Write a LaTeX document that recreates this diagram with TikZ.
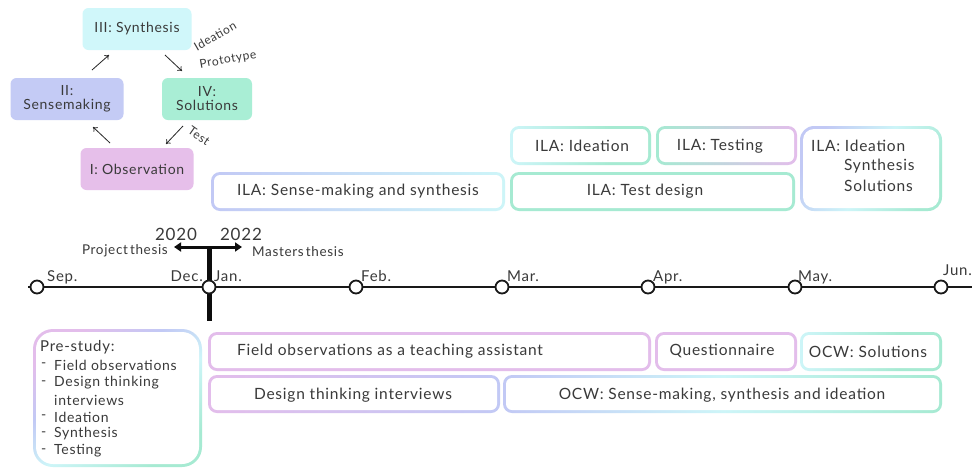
\documentclass[tikz,border=0pt]{standalone}
\usepackage{fontspec}
\setmainfont{Lato}[LetterSpace=5]
\usetikzlibrary{arrows.meta}
\definecolor{cP}{HTML}{E3BDEB}
\definecolor{cB}{HTML}{C2C9F5}
\definecolor{cC}{HTML}{CDF5F8}
\definecolor{cG}{HTML}{A6EAD2}
\definecolor{fObs}{HTML}{E6BFEA}
\definecolor{fSen}{HTML}{C4CBF5}
\definecolor{fSyn}{HTML}{D0F7FA}
\definecolor{fSol}{HTML}{A9EED5}
\definecolor{ink}{HTML}{3A3A3A}
\pgfdeclarehorizontalshading{bc}{100bp}{color(0bp)=(cB); color(25bp)=(cB); color(75bp)=(cC); color(100bp)=(cC)}
\pgfdeclarehorizontalshading{cg}{100bp}{color(0bp)=(cC); color(25bp)=(cC); color(60bp)=(cG); color(100bp)=(cG)}
\pgfdeclarehorizontalshading{gp}{100bp}{color(0bp)=(cG); color(25bp)=(cG); color(75bp)=(cP); color(100bp)=(cP)}
\pgfdeclarehorizontalshading{pb}{100bp}{color(0bp)=(cP); color(25bp)=(cP); color(75bp)=(cB); color(100bp)=(cB)}
\pgfdeclarehorizontalshading{bcg}{100bp}{color(0bp)=(cB); color(25bp)=(cB); color(50bp)=(cC); color(75bp)=(cG); color(100bp)=(cG)}
\pgfdeclarehorizontalshading{pbcg}{100bp}{color(0bp)=(cP); color(25bp)=(cP); color(40bp)=(cB); color(55bp)=(cC); color(75bp)=(cG); color(100bp)=(cG)}
\pgfdeclarehorizontalshading{pp}{100bp}{color(0bp)=(cP); color(100bp)=(cP)}
\pgfdeclarehorizontalshading{gg}{100bp}{color(0bp)=(cG); color(100bp)=(cG)}
% x1 y1 x2 y2 shading angle outer-radius inner-radius
\newcommand\gbox[8]{%
  \shade[shading=#5, shading angle=#6, rounded corners=#7pt] (#1,#2) rectangle (#3,#4);
  \fill[white, rounded corners=#8pt] ({#1+3},{#2+3}) rectangle ({#3-3},{#4-3});
}
\begin{document}
\begin{tikzpicture}[x=1pt,y=-1pt,
  txt/.style={text=ink, font=\fontsize{15.5}{18}\selectfont, inner sep=0pt},
  small/.style={text=ink, font=\fontsize{14}{16}\selectfont, inner sep=0pt},
  tiny/.style={text=ink, font=\fontsize{12}{13}\selectfont, inner sep=0pt},
  cyc/.style={text=ink, font=\fontsize{14}{16}\selectfont, rounded corners=6pt, align=center, inner sep=0pt, minimum height=42pt},
  cycarrow/.style={draw=black!85, line width=0.8pt, -{To[length=4pt,width=6pt]}},
  month/.style={circle, draw=black!90, line width=1.8pt, fill=white, minimum size=13pt, inner sep=0pt},
]
\useasboundingbox (0,0) rectangle (972,469);
\fill[white] (0,0) rectangle (972,469);

% ---------- cycle ----------
\node[cyc, fill=fSyn, minimum width=109pt] (syn) at (137,29) {III: Synthesis};
\node[cyc, fill=fSen, minimum width=113pt] (sen) at (67,99) {II:\\[-2pt]Sensemaking};
\node[cyc, fill=fSol, minimum width=90pt] (sol) at (207,99) {IV:\\[-2pt]Solutions};
\node[cyc, fill=fObs, minimum width=113pt] (obs) at (137,169) {I: Observation};

\coordinate (a1s) at (110,143); \coordinate (a1e) at (93,127);
\coordinate (a2s) at (92,70);   \coordinate (a2e) at (109,55);
\coordinate (a3s) at (165,55);  \coordinate (a3e) at (182,71);
\coordinate (a4s) at (183,126); \coordinate (a4e) at (166,144);
\draw[cycarrow] (a1s) -- (a1e);
\draw[cycarrow] (a2s) -- (a2e);
\draw[cycarrow] (a3s) -- (a3e);
\draw[cycarrow] (a4s) -- (a4e);
\node[tiny, rotate=30] (lid) at (215,36) {Ideation};
\node[tiny, rotate=10] (lpr) at (228,60) {Prototype};
\node[tiny, rotate=-35] (lte) at (199,136) {Test};

% ---------- upper boxes ----------
\gbox{211}{172}{505}{211}{bc}{0}{9}{6}
\node[txt] (ilasense) at (358,191) {ILA: Sense-making and synthesis};
\gbox{510}{126}{651}{165}{cg}{0}{9}{6}
\node[txt] (ilaidea) at (582,146) {ILA: Ideation};
\gbox{656}{126}{797}{165}{gp}{0}{9}{6}
\node[txt] (ilatest) at (720,146) {ILA: Testing};
\gbox{510}{172}{795}{211}{gg}{0}{9}{6}
\node[txt] (ilatd) at (645,191) {ILA: Test design};
\gbox{800}{126}{942}{211}{bcg}{-30}{14}{11}
\node[txt, anchor=west] (ila3a) at (811,146) {ILA: Ideation};
\node[txt, anchor=west] (ila3b) at (844,166) {Synthesis};
\node[txt, anchor=west] (ila3c) at (844,186) {Solutions};

% ---------- timeline ----------
\coordinate (tl0) at (28,287);
\coordinate (tl1) at (972,287);
\draw[line width=2.2pt, black!90] (tl0) -- (tl1);
\coordinate (vtop) at (209,247);
\coordinate (vbot) at (209,321);
\draw[line width=5pt, black!95] (vtop) -- (vbot);
\coordinate (arl) at (174,247);
\coordinate (arr) at (242,247);
\draw[line width=3pt, black!95, {Triangle[length=7pt,width=9pt]}-{Triangle[length=7pt,width=9pt]}] (arl) -- (arr);

\node[month] (m1) at (37,287) {};
\node[month] (m2) at (209,287) {};
\node[month] (m3) at (356,287) {};
\node[month] (m4) at (502,287) {};
\node[month] (m5) at (648,287) {};
\node[month] (m6) at (795,287) {};
\node[month] (m7) at (941,287) {};

\node[small, font=\fontsize{15}{16}\selectfont, anchor=base west] (lsep) at (47,281) {Sep.};
\node[small, font=\fontsize{15}{16}\selectfont, anchor=base east] (ldec) at (203,281) {Dec.};
\node[small, font=\fontsize{15}{16}\selectfont, anchor=base west] (ljan) at (214,281) {Jan.};
\node[small, font=\fontsize{15}{16}\selectfont, anchor=base west] (lfeb) at (361,281) {Feb.};
\node[small, font=\fontsize{15}{16}\selectfont, anchor=base west] (lmar) at (507,281) {Mar.};
\node[small, font=\fontsize{15}{16}\selectfont, anchor=base west] (lapr) at (653,281) {Apr.};
\node[small, font=\fontsize{15}{16}\selectfont, anchor=base west] (lmay) at (798,281) {May.};
\node[small, font=\fontsize{15}{16}\selectfont, anchor=base west] (ljun) at (943,275) {Jun.};

\node[text=ink, font=\fontsize{17}{18}\selectfont, inner sep=0pt, anchor=base] (y2020) at (176,240) {2020};
\node[text=ink, font=\fontsize{17}{18}\selectfont, inner sep=0pt, anchor=base] (y2022) at (241,240) {2022};
\node[text=ink, font=\fontsize{13.5}{14}\selectfont, inner sep=0pt, anchor=base east] (lproj) at (168,254) {Project\hspace{2pt}thesis};
\node[text=ink, font=\fontsize{13.5}{14}\selectfont, inner sep=0pt, anchor=base west] (lmast) at (252,256) {Masters\hspace{2pt}thesis};

% ---------- lower boxes ----------
\gbox{33}{329}{202}{467}{pbcg}{-55}{20}{17}
\node[small, font=\fontsize{15}{16}\selectfont, anchor=west] (pre) at (40,347) {Pre-study:};
\foreach \yy/\tt/\nm in {365/Field observations/p1, 383/Design thinking/p2, 417/Ideation/p4, 434/Synthesis/p5, 451/Testing/p6}{
  \node[small, anchor=west] (\nm d) at (41,\yy) {-};
  \node[small, anchor=west] (\nm) at (54,\yy) {\tt};
}
\node[small, anchor=west] (p3) at (54,400) {interviews};

\gbox{208}{332}{651}{371}{pp}{0}{9}{6}
\node[txt] (field) at (390,351) {Field observations as a teaching assistant};
\gbox{655}{332}{797}{371}{pp}{0}{9}{6}
\node[txt] (quest) at (722,351) {Questionnaire};
\gbox{800}{332}{942}{371}{cg}{0}{9}{6}
\node[txt] (ocwsol) at (868,352) {OCW: Solutions};
\gbox{208}{375}{500}{413}{pb}{0}{9}{6}
\node[txt] (dti) at (353,395) {Design thinking interviews};
\gbox{503}{375}{942}{413}{bcg}{0}{9}{6}
\node[txt] (ocwsense) at (722,395) {OCW: Sense-making, synthesis and ideation};
\end{tikzpicture}
\end{document}
